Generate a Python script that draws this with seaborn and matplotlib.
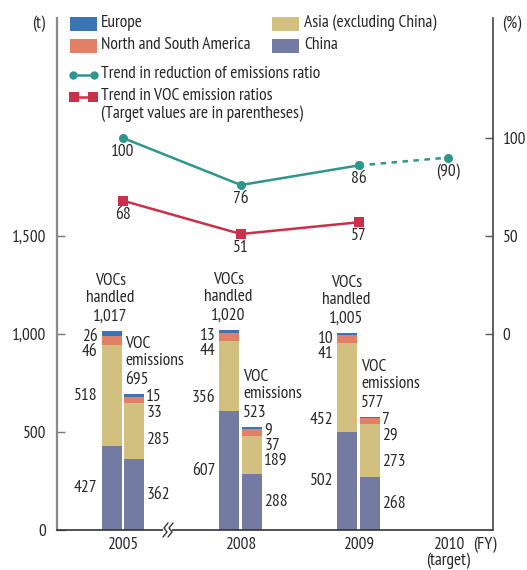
import matplotlib
matplotlib.use("Agg")
import matplotlib.pyplot as plt
from matplotlib.patches import Rectangle
from matplotlib.lines import Line2D
import seaborn as sns
import pandas as pd

# ---- data -------------------------------------------------------------
years = ["2005", "2008", "2009", "2010"]
bar_years = ["2005", "2008", "2009"]

handled_china = [427, 607, 502]
handled_asia = [518, 356, 452]
handled_americas = [46, 44, 41]
handled_europe = [26, 13, 10]
handled_total = [1017, 1020, 1005]

emitted_china = [362, 288, 268]
emitted_asia = [285, 189, 273]
emitted_americas = [33, 37, 29]
emitted_europe = [15, 9, 7]
emitted_total = [695, 523, 577]

reduction_ratio = [100, 76, 86]
reduction_target = 90
voc_ratio = [68, 51, 57]

# ---- layout -----------------------------------------------------------
x_pos = {"2005": 0.0, "2008": 1.0, "2009": 2.0, "2010": 2.76}
bar_w = 0.17
bar_off = 0.097
asia_label_y_handled = [686, 673, 561]
asia_label_y_emitted = [459, 352, 347]

C_EUROPE = "#3b74b3"
C_AMERICAS = "#e27f67"
C_ASIA = "#d1c07f"
C_CHINA = "#737ba2"
C_TEAL = "#2f968c"
C_RED = "#c9314a"
TXT = "#262626"
FS = 12.5

sns.set_style("white")
plt.rcParams["font.family"] = ["PT Sans Narrow", "DejaVu Sans"]
plt.rcParams["font.size"] = FS

W, H = 527, 570
fig = plt.figure(figsize=(W / 100, H / 100), dpi=100)
ax = fig.add_axes([57 / W, 1 - 530 / H, 436 / W, 512 / H])
ax2 = ax.twinx()

ax.set_xlim(-0.56, 3.14)
ax.set_ylim(0, 2612)
ax2.set_ylim(-100, 161.2)


def fx(p):
    return p / W


def fy(p):
    return 1 - p / H


# ---- stacked bars -----------------------------------------------------
def stacked(xc, parts, colors):
    bottom = 0
    for v, c in zip(parts, colors):
        ax.bar(xc, v, width=bar_w, bottom=bottom, color=c, edgecolor="none", zorder=2)
        bottom += v
    return bottom


colors = [C_CHINA, C_ASIA, C_AMERICAS, C_EUROPE]
for i, yr in enumerate(bar_years):
    xl = x_pos[yr] - bar_off
    xr = x_pos[yr] + bar_off
    top_h = stacked(xl, [handled_china[i], handled_asia[i], handled_americas[i], handled_europe[i]], colors)
    top_e = stacked(xr, [emitted_china[i], emitted_asia[i], emitted_americas[i], emitted_europe[i]], colors)

    # handled bar: title and total above, segment values on the left
    for txt, dy in (("VOCs", 50), ("handled", 33), (f"{handled_total[i]:,}", 14)):
        ax.annotate(txt, (xl, top_h), xytext=(-1, dy), textcoords="offset pixels",
                    ha="center", va="center", color=TXT)
    lx = xl - bar_w / 2
    ax.annotate(str(handled_europe[i]), (lx, top_h), xytext=(-4, -6), textcoords="offset pixels",
                ha="right", va="center", color=TXT)
    ax.annotate(str(handled_americas[i]), (lx, top_h), xytext=(-4, -21), textcoords="offset pixels",
                ha="right", va="center", color=TXT)
    ax.annotate(str(handled_asia[i]), (lx, asia_label_y_handled[i]), xytext=(-4, 0),
                textcoords="offset pixels", ha="right", va="center", color=TXT)
    ax.annotate(str(handled_china[i]), (lx, handled_china[i] / 2), xytext=(-4, 0),
                textcoords="offset pixels", ha="right", va="center", color=TXT)

    # emissions bar: title and total above, segment values on the right
    ex = xr - bar_w / 2
    for txt, dy in (("VOC", 50), ("emissions", 33), (f"{emitted_total[i]:,}", 14)):
        ax.annotate(txt, (ex, top_e), xytext=(1, dy), textcoords="offset pixels",
                    ha="left", va="center", color=TXT)
    rx = xr + bar_w / 2
    ax.annotate(str(emitted_europe[i]), (rx, top_e), xytext=(2, -3), textcoords="offset pixels",
                ha="left", va="center", color=TXT)
    ax.annotate(str(emitted_americas[i]), (rx, top_e), xytext=(2, -19), textcoords="offset pixels",
                ha="left", va="center", color=TXT)
    ax.annotate(str(emitted_asia[i]), (rx, asia_label_y_emitted[i]), xytext=(2, 0),
                textcoords="offset pixels", ha="left", va="center", color=TXT)
    ax.annotate(str(emitted_china[i]), (rx, emitted_china[i] / 2), xytext=(2, 0),
                textcoords="offset pixels", ha="left", va="center", color=TXT)

# ---- trend lines (right axis) ----------------------------------------
df_red = pd.DataFrame({"x": [x_pos[y] for y in bar_years], "v": voc_ratio})
df_teal = pd.DataFrame({"x": [x_pos[y] for y in bar_years], "v": reduction_ratio})
df_target = pd.DataFrame({"x": [x_pos["2009"], x_pos["2010"]], "v": [reduction_ratio[-1], reduction_target]})

sns.lineplot(data=df_target, x="x", y="v", ax=ax2, color=C_TEAL, lw=1.8, ls=(0, (2.2, 2.2)),
             marker="o", markersize=6.5, markeredgewidth=0, zorder=3)
sns.lineplot(data=df_teal, x="x", y="v", ax=ax2, color=C_TEAL, lw=1.8,
             marker="o", markersize=6.5, markeredgewidth=0, zorder=4)
sns.lineplot(data=df_red, x="x", y="v", ax=ax2, color=C_RED, lw=1.8,
             marker="s", markersize=7, markeredgewidth=0, zorder=4)

for yr, v in zip(bar_years, reduction_ratio):
    ax2.annotate(str(v), (x_pos[yr], v), xytext=(0, -14), textcoords="offset pixels",
                 ha="center", va="center", color=TXT)
ax2.annotate(f"({reduction_target})", (x_pos["2010"], reduction_target), xytext=(0, -14),
             textcoords="offset pixels", ha="center", va="center", color=TXT)
for yr, v in zip(bar_years, voc_ratio):
    ax2.annotate(str(v), (x_pos[yr], v), xytext=(0, -14), textcoords="offset pixels",
                 ha="center", va="center", color=TXT)

# ---- axes styling -----------------------------------------------------
ax.set_xlabel("")
ax2.set_xlabel("")
ax2.set_ylabel("")
ax.set_xticks([x_pos[y] for y in years])
ax.set_xticklabels(years)
ax.tick_params(axis="x", length=0, pad=5, labelsize=FS, labelcolor=TXT)
ax.set_yticks([0, 500, 1000, 1500])
ax.set_yticklabels(["0", "500", "1,000", "1,500"])
ax.tick_params(axis="y", direction="in", length=6, width=1, color="#777777",
               pad=8, labelsize=FS, labelcolor=TXT)
ax2.set_yticks([0, 50, 100])
ax2.set_yticklabels(["0", "50", "100"])
ax2.tick_params(axis="y", direction="in", length=6, width=1, color="#555555",
                pad=7, labelsize=FS, labelcolor=TXT)

for a in (ax, ax2):
    a.spines["top"].set_visible(False)
    a.spines["left"].set_color("#8a8a8a")
    a.spines["left"].set_linewidth(1.6)
    a.spines["right"].set_color("#444444")
    a.spines["right"].set_linewidth(1.2)
    a.spines["bottom"].set_color("#333333")
    a.spines["bottom"].set_linewidth(1.2)
ax2.spines["bottom"].set_visible(False)
ax2.spines["left"].set_visible(False)
ax.spines["right"].set_visible(False)

# axis break mark on the baseline
fig.patches.append(Rectangle((fx(163), fy(533)), fx(9), 6 / H, transform=fig.transFigure,
                             facecolor="white", edgecolor="none", zorder=5))
for x0 in (164, 169):
    fig.lines.append(Line2D([fx(x0 + 4), fx(x0), fx(x0 + 3), fx(x0 - 1)],
                            [fy(523), fy(528), fy(532), fy(537)],
                            transform=fig.transFigure, color="#333333", lw=1.0, zorder=6))

# unit labels
fig.text(fx(39), fy(24), "(t)", ha="center", va="center", color=TXT, fontsize=FS)
fig.text(fx(512), fy(24), "(%)", ha="center", va="center", color=TXT, fontsize=FS)
fig.text(fx(485), fy(545), "(FY)", ha="center", va="center", color=TXT, fontsize=FS)
fig.text(fx(448), fy(561), "(target)", ha="center", va="center", color=TXT, fontsize=FS)

# ---- legend -----------------------------------------------------------
def swatch(x0, y0, c):
    fig.patches.append(Rectangle((fx(x0), fy(y0 + 14)), 27 / W, 14 / H,
                                 transform=fig.transFigure, facecolor=c, edgecolor="none"))


swatch(70, 17, C_EUROPE)
swatch(70, 39, C_AMERICAS)
swatch(272, 17, C_ASIA)
swatch(272, 39, C_CHINA)
fig.text(fx(101), fy(23), "Europe", ha="left", va="center", color=TXT, fontsize=FS)
fig.text(fx(101), fy(45), "North and South America", ha="left", va="center", color=TXT, fontsize=FS)
fig.text(fx(304), fy(23), "Asia (excluding China)", ha="left", va="center", color=TXT, fontsize=FS)
fig.text(fx(304), fy(45), "China", ha="left", va="center", color=TXT, fontsize=FS)

fig.lines.append(Line2D([fx(73), fx(94)], [fy(75), fy(75)], transform=fig.transFigure,
                        color=C_TEAL, lw=1.8, marker="o", markersize=6, markeredgewidth=0))
fig.lines.append(Line2D([fx(74), fx(93)], [fy(97), fy(97)], transform=fig.transFigure,
                        color=C_RED, lw=1.8, marker="s", markersize=7, markeredgewidth=0))
fig.text(fx(101), fy(74), "Trend in reduction of emissions ratio", ha="left", va="center",
         color=TXT, fontsize=FS)
fig.text(fx(101), fy(96), "Trend in VOC emission ratios", ha="left", va="center",
         color=TXT, fontsize=FS)
fig.text(fx(101), fy(114), "(Target values are in parentheses)", ha="left", va="center",
         color=TXT, fontsize=FS)

fig.savefig("out.png", dpi=100)
